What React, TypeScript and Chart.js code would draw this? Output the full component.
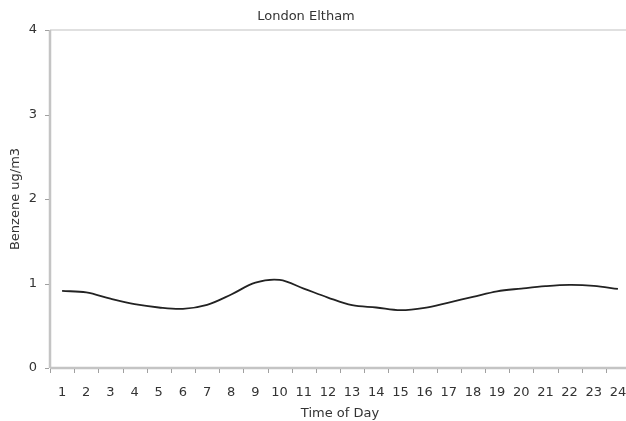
import React, { useEffect, useRef } from "react";
import { Chart, registerables } from "chart.js";

Chart.register(...registerables);

const chartTitle = "London Eltham";
const xAxisTitle = "Time of Day";
const yAxisTitle = "Benzene ug/m3";
const hours = ["1","2","3","4","5","6","7","8","9","10","11","12","13","14","15","16","17","18","19","20","21","22","23","24"];
const benzene = [0.912, 0.895, 0.82, 0.755, 0.716, 0.70, 0.747, 0.87, 1.01, 1.042, 0.94, 0.834, 0.743, 0.716, 0.684, 0.712, 0.775, 0.841, 0.908, 0.94, 0.968, 0.983, 0.972, 0.936];
const yTicks = [0, 1, 2, 3, 4];

const FONT = "'DejaVu Sans', Verdana, sans-serif";
const TEXT = "#333333";
const AXIS = "#c4c4c4";
const TICK = "#a0a0a0";

const decorPlugin = {
  id: "decor",
  afterDraw(chart: any) {
    const ctx = chart.ctx;
    const area = chart.chartArea;
    const xs = chart.scales.x;
    const ys = chart.scales.y;
    ctx.save();
    // top frame line
    ctx.strokeStyle = "#e0e0e0";
    ctx.lineWidth = 2;
    ctx.beginPath();
    ctx.moveTo(area.left, area.top);
    ctx.lineTo(area.right, area.top);
    ctx.stroke();
    // x axis line
    ctx.strokeStyle = AXIS;
    ctx.lineWidth = 2.5;
    ctx.beginPath();
    ctx.moveTo(area.left, area.bottom);
    ctx.lineTo(area.right, area.bottom);
    ctx.stroke();
    // y axis line
    ctx.beginPath();
    ctx.moveTo(area.left, area.top);
    ctx.lineTo(area.left, area.bottom);
    ctx.stroke();
    // x ticks at category boundaries
    ctx.strokeStyle = TICK;
    ctx.lineWidth = 1;
    const n = hours.length;
    const step = xs.getPixelForTick(1) - xs.getPixelForTick(0);
    for (let i = 0; i <= n; i++) {
      const px = Math.round(xs.getPixelForTick(Math.min(i, n - 1)) + (i < n ? -step / 2 : step / 2)) + 0.5;
      ctx.beginPath();
      ctx.moveTo(px, area.bottom + 1);
      ctx.lineTo(px, area.bottom + 5);
      ctx.stroke();
    }
    // y ticks
    for (const v of yTicks) {
      const py = Math.round(ys.getPixelForValue(v)) + 0.5;
      ctx.beginPath();
      ctx.moveTo(area.left - 5, py);
      ctx.lineTo(area.left - 1, py);
      ctx.stroke();
    }
    // title
    ctx.font = `13px ${FONT}`;
    ctx.fillStyle = TEXT;
    ctx.textAlign = "center";
    ctx.textBaseline = "middle";
    ctx.fillText(chartTitle, 306, 17);
    ctx.restore();
  },
};

export default function App() {
  const ref = useRef<HTMLCanvasElement | null>(null);
  useEffect(() => {
    if (!ref.current) return;
    const chart = new Chart(ref.current, {
      type: "line",
      data: {
        labels: hours,
        datasets: [
          {
            data: benzene,
            borderColor: "#222222",
            borderWidth: 1.8,
            pointRadius: 0,
            tension: 0.35,
            fill: false,
          },
        ],
      },
      options: {
        animation: false,
        responsive: false,
        maintainAspectRatio: false,
        layout: { padding: { top: 30, right: 10, left: 0, bottom: 0 } },
        plugins: { legend: { display: false }, title: { display: false }, tooltip: { enabled: false } },
        scales: {
          x: {
            type: "category",
            offset: true,
            grid: { display: false, drawTicks: true, tickLength: 5 },
            border: { display: false },
            ticks: { color: TEXT, font: { family: FONT, size: 13 }, padding: 12, maxRotation: 0, autoSkip: false },
            title: { display: true, text: xAxisTitle, color: TEXT, font: { family: FONT, size: 13 }, padding: { top: 0, bottom: 0 } },
            afterFit: (s: any) => { s.height = 53; },
          },
          y: {
            min: 0,
            max: 4,
            afterBuildTicks: (s: any) => { s.ticks = yTicks.map((v) => ({ value: v })); },
            grid: { display: false, drawTicks: true, tickLength: 4 },
            border: { display: false },
            ticks: { color: TEXT, font: { family: FONT, size: 13 }, padding: 9 },
            title: { display: true, text: yAxisTitle, color: TEXT, font: { family: FONT, size: 13 }, padding: { top: 8, bottom: 0 } },
            afterFit: (s: any) => { s.width = 50; },
          },
        },
      },
      plugins: [decorPlugin],
    });
    return () => chart.destroy();
  }, []);
  return (
    <div style={{ position: "fixed", left: 0, top: 0, width: 626, height: 421, overflow: "hidden", background: "#fff" }}>
      <canvas ref={ref} width={640} height={421} style={{ display: "block", width: 640, height: 421 }} />
    </div>
  );
}
